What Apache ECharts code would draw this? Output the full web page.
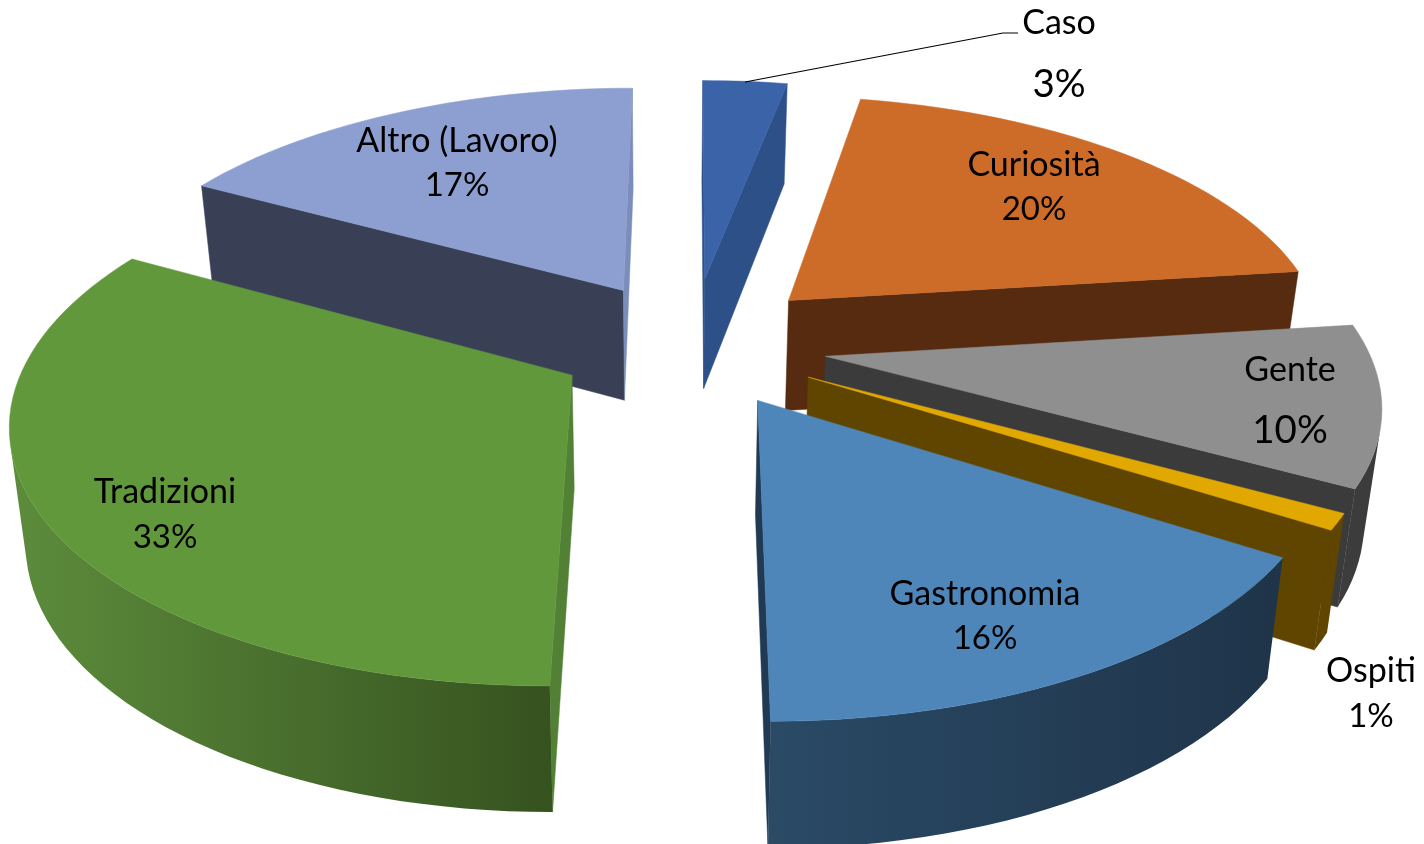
<!DOCTYPE html>
<html><head><meta charset="utf-8">
<style>html,body{margin:0;padding:0;background:#fff}#c{width:1424px;height:844px}</style>
<script src="https://cdn.jsdelivr.net/npm/echarts@6/dist/echarts.min.js"></script>
</head><body><div id="c"></div>
<script>
// Data
const categories = ['Caso','Curiosità','Gente','Ospiti','Gastronomia','Tradizioni','Altro (Lavoro)'];
const values = [3,20,10,1,16,33,17];

// Styles and layout
const explode = [.28,.265,.26,.255,.24,.24,.25];
const nudge = [[3,-1],[-1,-2.5],[-2,-3],[-1,-3],[5,-1],[-2,-3],[2,-4.5]];
const topColors = ['#3a63a8','#cd6c29','#8f8f8f','#e0a800','#4e86ba','#62983c','#8d9fd1'];
const cutStart = ['#2d5089','#572b10','#3b3b3b','#5f4500','#203a54','#528035','#394056'];
const cutEnd = ['#2d5089','#572b10','#3b3b3b','#5f4500','#203a54','#528035','#7b8db9'];
const wallLeft = ['#2d5089','#572b10','#3d3d3d','#5f4500','#2a4a66','#5d8c3c','#394056'];
const wallRight = ['#2d5089','#572b10','#3b3b3b','#5f4500','#1f3449','#35521f','#394056'];
const drawOrder = [0,6,1,2,3,4,5];
const labelCenters = [[1059,23,85],[1034,165.5,209.5],[1290,370,431],[1371,671,716],[985,594,638],[165,492,537],[457,141,185]];
const labelSizes = [[34,38.5],[34,33],[34,38.5],[34,33],[34,33],[34,33],[34,33]];
const leader = [[745,82],[1003,33],[1018,33]];
const cam = {cx:688, cy:347, a:541, b:250, c:.16, vx:688, depth:112, p:.6, shrink:.025, vzx:662};

const total = values.reduce((s,v)=>s+v,0);
let acc = 0;
const slices = values.map((v,i)=>{const a0=acc/total*2*Math.PI; acc+=v; return {a0,a1:acc/total*2*Math.PI};});

function proj(X,Y){
  const w=1+cam.c*Y;
  return {x:cam.cx+(cam.a*X+(cam.vx-cam.cx)*cam.c*Y)/w, y:cam.cy-cam.b*Y/w, w};
}
function down(p){
  return [p.x+(cam.vzx-p.x)*cam.shrink, p.y+cam.depth/Math.pow(p.w,cam.p)];
}
const area=q=>{let s=0;for(let i=0;i<q.length;i++){const a=q[i],b=q[(i+1)%q.length];s+=a[0]*b[1]-b[0]*a[1];}return s/2;};
const poly=(pts,fill)=>({type:'polygon',silent:true,shape:{points:pts},style:{fill,stroke:typeof fill==='string'?fill:null,lineWidth:typeof fill==='string'?.5:0}});

function renderItem(params,api){
  const i=api.value(0), s=slices[i], e=explode[i];
  const mid=(s.a0+s.a1)/2, ox=e*Math.sin(mid), oy=e*Math.cos(mid);
  const A=proj(ox,oy), n=Math.max(8,Math.ceil((s.a1-s.a0)/(Math.PI/90)));
  const arc=[];
  for(let k=0;k<=n;k++){const t=s.a0+(s.a1-s.a0)*k/n; arc.push(proj(ox+Math.sin(t),oy+Math.cos(t)));}
  const xy=p=>[p.x,p.y];
  const children=[];
  const cuts=[[A,arc[0],cutStart[i]],[arc[n],A,cutEnd[i]]];
  cuts.forEach(([p,q,col])=>{
    const quad=[xy(p),xy(q),down(q),down(p)];
    if(area(quad)<0) children.push(poly(quad,col));
  });
  // outer wall: keep only the segments that face the viewer
  let run=[];
  const flush=()=>{
    if(run.length>1){
      const pts=run.map(xy).concat(run.slice().reverse().map(down));
      children.push(poly(pts,new echarts.graphic.LinearGradient(0,0,1,0,[{offset:0,color:wallLeft[i]},{offset:1,color:wallRight[i]}])));
    }
    run=[];
  };
  for(let k=0;k<n;k++){
    const p=arc[k],q=arc[k+1];
    if(area([xy(p),xy(q),down(q),down(p)])<0){ if(!run.length) run.push(p); run.push(q);} else flush();
  }
  flush();
  children.push(poly([xy(A)].concat(arc.map(xy)),topColors[i]));
  return {type:'group',x:nudge[i][0],y:nudge[i][1],children};
}
function labelItem(params,api){
  const i=api.value(0), c=labelCenters[i], z=labelSizes[i];
  const txt=(t,y,size)=>({type:'text',silent:true,style:{text:t,x:c[0],y,fill:'#000',font:size+'px Lato',textAlign:'center',textVerticalAlign:'middle'}});
  const kids=[txt(categories[i],c[1],z[0]),txt(values[i]+'%',c[2],z[1])];
  if(i===0) kids.push({type:'polyline',silent:true,shape:{points:leader},style:{stroke:'#000',lineWidth:1.2,fill:null}});
  return {type:'group',children:kids};
}
const chart=echarts.init(document.getElementById('c'),null,{renderer:'canvas'});
chart.setOption({
  animation:false,backgroundColor:'#fff',
  series:[
    {type:'custom',coordinateSystem:'none',renderItem,data:drawOrder.map(i=>[i]),silent:true,z:1},
    {type:'custom',coordinateSystem:'none',renderItem:labelItem,data:categories.map((c,i)=>[i]),silent:true,z:2}
  ]
});
</script></body></html>
